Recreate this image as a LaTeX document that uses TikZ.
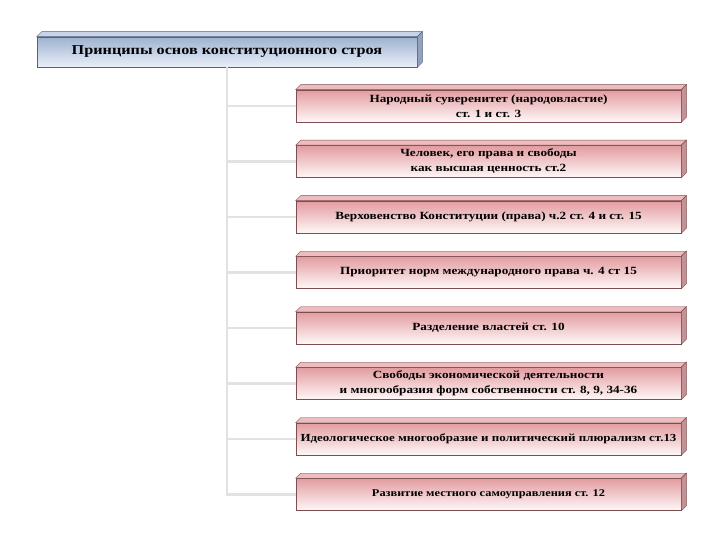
\documentclass[tikz,border=0pt]{standalone}
\usepackage{fontspec}
\setmainfont[FakeStretch=1.2]{Liberation Serif}
\definecolor{pinktop}{RGB}{226,156,160}
\definecolor{pinkbot}{RGB}{255,248,248}
\definecolor{pinkline}{RGB}{125,78,80}
\definecolor{pinkbevtop}{RGB}{238,188,190}
\definecolor{pinkbevside}{RGB}{196,146,150}
\definecolor{bluetop}{RGB}{158,178,210}
\definecolor{bluebot}{RGB}{234,239,248}
\definecolor{blueline}{RGB}{88,98,115}
\definecolor{bluebevtop}{RGB}{200,212,232}
\definecolor{bluebevside}{RGB}{146,162,190}
\definecolor{connline}{RGB}{226,226,226}
\tikzset{
  titlebox/.style={draw=blueline, line width=0.6pt, top color=bluetop, bottom color=bluebot,
    minimum width=380pt, minimum height=30pt, inner sep=0pt, align=center,
    font=\fontsize{13.5}{15}\selectfont\bfseries},
  itembox/.style={draw=pinkline, line width=0.6pt, top color=pinktop, bottom color=pinkbot,
    minimum width=385pt, minimum height=32pt, inner sep=0pt, align=center,
    font=\fontsize{11}{15}\selectfont\bfseries},
  conn/.style={draw=connline, line width=2.2pt}
}
\newcommand{\bevelbox}[4]{% name, topcolor, sidecolor, linecolor
  \filldraw[fill=#2, draw=#4, line width=0.4pt] (#1.north west) -- ++(5pt,5pt) -- ([shift={(5pt,5pt)}]#1.north east) -- (#1.north east) -- cycle;
  \filldraw[fill=#3, draw=#4, line width=0.4pt] (#1.north east) -- ++(5pt,5pt) -- ([shift={(5pt,5pt)}]#1.south east) -- (#1.south east) -- cycle;
}
\begin{document}
\begin{tikzpicture}[x=1pt,y=-1pt]
\useasboundingbox[fill=white] (0,0) rectangle (720,540);
% title
\node[titlebox] (top) at (227,52) {Принципы основ конституционного строя};
\bevelbox{top}{bluebevtop}{bluebevside}{blueline}
% items
\node[itembox] (b1) at (488.5,106) {Народный суверенитет (народовластие)\\ст. 1 и ст. 3};
\node[itembox] (b2) at (488.5,161.5) {Человек, его права и свободы\\как высшая ценность ст.2};
\node[itembox] (b3) at (488.5,217) {Верховенство Конституции (права) ч.2 ст. 4 и ст. 15};
\node[itembox] (b4) at (488.5,272.5) {Приоритет норм международного права ч. 4 ст 15};
\node[itembox] (b5) at (488.5,328) {Разделение властей ст. 10};
\node[itembox] (b6) at (488.5,383.5) {Свободы экономической деятельности\\и многообразия форм собственности ст. 8, 9, 34-36};
\node[itembox] (b7) at (488.5,439) {\fontsize{10.8}{15}\selectfont Идеологическое многообразие и политический плюрализм ст.13};
\node[itembox] (b8) at (488.5,494.5) {\fontsize{10.3}{14}\selectfont Развитие местного самоуправления ст. 12};
\foreach \i in {1,...,8}{\bevelbox{b\i}{pinkbevtop}{pinkbevside}{pinkline}}
% connectors
\draw[conn] (top.south) -- (top.south |- b8.west) -- (b8.west);
\foreach \i in {1,...,7}{\draw[conn] (top.south |- b\i.west) -- (b\i.west);}
\end{tikzpicture}
\end{document}
